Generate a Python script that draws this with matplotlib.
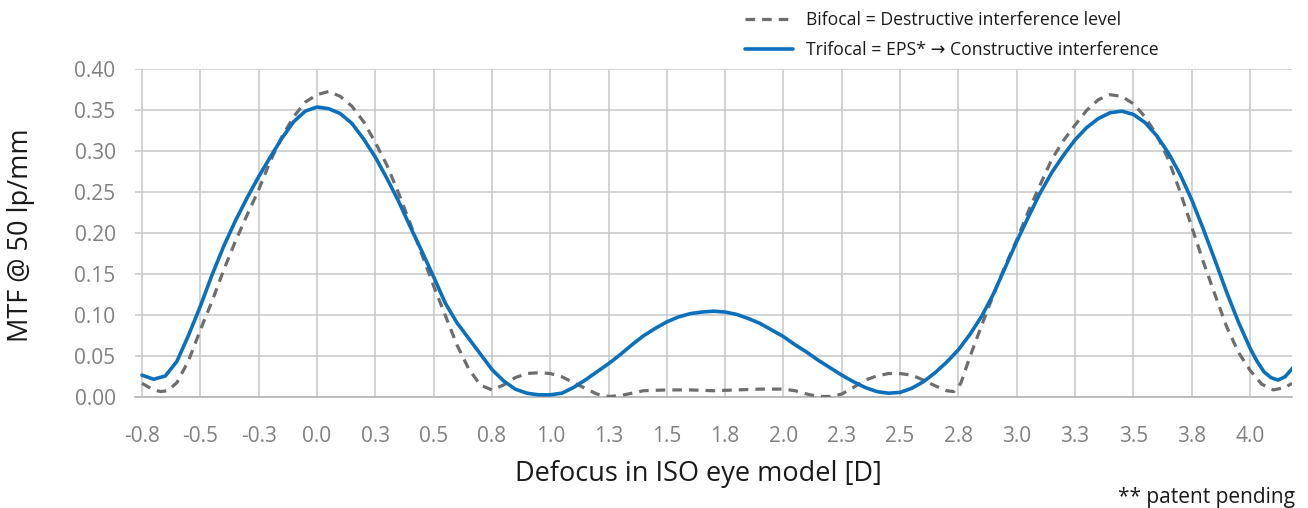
import matplotlib
matplotlib.use("Agg")
import matplotlib.pyplot as plt

# ---- data ----
tick_values = [-0.75, -0.5, -0.25, 0.0, 0.25, 0.5, 0.75, 1.0, 1.25, 1.5, 1.75,
               2.0, 2.25, 2.5, 2.75, 3.0, 3.25, 3.5, 3.75, 4.0]
tick_labels = ["-0.8", "-0.5", "-0.3", "0.0", "0.3", "0.5", "0.8", "1.0", "1.3", "1.5",
               "1.8", "2.0", "2.3", "2.5", "2.8", "3.0", "3.3", "3.5", "3.8", "4.0"]
y_ticks = [0.00, 0.05, 0.10, 0.15, 0.20, 0.25, 0.30, 0.35, 0.40]

trifocal_x = [-0.75, -0.70, -0.65, -0.60, -0.55, -0.50, -0.45, -0.40, -0.35, -0.30,
              -0.25, -0.20, -0.15, -0.10, -0.05, 0.00, 0.05, 0.10, 0.15, 0.20,
              0.25, 0.30, 0.35, 0.40, 0.45, 0.50, 0.55, 0.60, 0.65, 0.70,
              0.75, 0.80, 0.85, 0.90, 0.95, 1.00, 1.05, 1.10, 1.15, 1.20,
              1.25, 1.30, 1.35, 1.40, 1.45, 1.50, 1.55, 1.60, 1.65, 1.70,
              1.75, 1.80, 1.85, 1.90, 1.95, 2.00, 2.05, 2.10, 2.15, 2.20,
              2.25, 2.30, 2.35, 2.40, 2.45, 2.50, 2.55, 2.60, 2.65, 2.70,
              2.75, 2.80, 2.85, 2.90, 2.95, 3.00, 3.05, 3.10, 3.15, 3.20,
              3.25, 3.30, 3.35, 3.40, 3.45, 3.50, 3.55, 3.60, 3.65, 3.70,
              3.75, 3.80, 3.85, 3.90, 3.95, 4.00, 4.03, 4.06, 4.09, 4.12,
              4.15, 4.19]
trifocal_y = [0.027, 0.022, 0.026, 0.044, 0.076, 0.111, 0.149, 0.184, 0.215, 0.243,
              0.269, 0.293, 0.316, 0.336, 0.349, 0.354, 0.352, 0.346, 0.334, 0.315,
              0.293, 0.267, 0.239, 0.208, 0.178, 0.147, 0.115, 0.091, 0.072, 0.053,
              0.034, 0.020, 0.010, 0.005, 0.003, 0.003, 0.005, 0.012, 0.021, 0.031,
              0.041, 0.052, 0.064, 0.075, 0.084, 0.092, 0.098, 0.102, 0.104, 0.105,
              0.104, 0.101, 0.096, 0.090, 0.082, 0.074, 0.064, 0.055, 0.045, 0.036,
              0.027, 0.019, 0.012, 0.007, 0.005, 0.006, 0.011, 0.019, 0.030, 0.043,
              0.058, 0.077, 0.099, 0.126, 0.158, 0.190, 0.220, 0.249, 0.274, 0.295,
              0.314, 0.329, 0.340, 0.347, 0.349, 0.345, 0.335, 0.319, 0.298, 0.272,
              0.241, 0.205, 0.167, 0.128, 0.092, 0.060, 0.044, 0.031, 0.024, 0.021,
              0.025, 0.038]

bifocal_x = [-0.75, -0.70, -0.67, -0.64, -0.60, -0.55, -0.50, -0.45, -0.40, -0.35,
             -0.30, -0.25, -0.20, -0.15, -0.10, -0.05, 0.00, 0.05, 0.10, 0.15,
             0.20, 0.25, 0.30, 0.35, 0.40, 0.45, 0.50, 0.55, 0.60, 0.65,
             0.70, 0.75, 0.80, 0.85, 0.90, 0.95, 1.00, 1.05, 1.10, 1.15,
             1.20, 1.25, 1.30, 1.35, 1.40, 1.50, 1.60, 1.70, 1.80, 1.90,
             2.00, 2.05, 2.10, 2.15, 2.20, 2.25, 2.30, 2.35, 2.40, 2.45,
             2.50, 2.55, 2.60, 2.65, 2.70, 2.73, 2.76, 2.80, 2.85, 2.90,
             2.95, 3.00, 3.05, 3.10, 3.15, 3.20, 3.25, 3.30, 3.35, 3.40,
             3.45, 3.50, 3.55, 3.60, 3.65, 3.70, 3.75, 3.80, 3.85, 3.90,
             3.95, 4.00, 4.05, 4.10, 4.15, 4.18]
bifocal_y = [0.017, 0.009, 0.007, 0.008, 0.018, 0.045, 0.082, 0.117, 0.155, 0.190,
             0.222, 0.253, 0.288, 0.318, 0.342, 0.360, 0.369, 0.373, 0.367, 0.355,
             0.336, 0.311, 0.283, 0.249, 0.212, 0.174, 0.136, 0.100, 0.064, 0.035,
             0.015, 0.009, 0.015, 0.024, 0.029, 0.030, 0.029, 0.025, 0.018, 0.011,
             0.004, 0.001, 0.002, 0.005, 0.008, 0.009, 0.009, 0.008, 0.009, 0.010,
             0.010, 0.008, 0.004, 0.001, 0.001, 0.004, 0.012, 0.021, 0.026, 0.029,
             0.029, 0.027, 0.021, 0.014, 0.008, 0.007, 0.017, 0.050, 0.088, 0.125,
             0.160, 0.192, 0.227, 0.259, 0.290, 0.313, 0.332, 0.350, 0.363, 0.369,
             0.367, 0.358, 0.342, 0.320, 0.290, 0.251, 0.208, 0.165, 0.125, 0.086,
             0.055, 0.033, 0.016, 0.009, 0.012, 0.017]

series_labels = ["Bifocal = Destructive interference level",
                 "Trifocal = EPS* \u2192 Constructive interference"]

# ---- figure ----
plt.rcParams['font.family'] = ['Open Sans', 'DejaVu Sans']
W, H = 1308, 508
fig = plt.figure(figsize=(W / 100, H / 100), dpi=100)
ax = fig.add_axes([135 / W, 1 - 397.3 / H, 1157 / W, 328 / H])

grid_c = "#c6c6c6"
ax.plot(bifocal_x, bifocal_y, color="#6d6d6f", lw=2.3, ls=(0, (3.0, 2.2)),
        label=series_labels[0], zorder=3, solid_capstyle="butt", dash_capstyle="butt")
ax.plot(trifocal_x, trifocal_y, color="#0a70bd", lw=2.6, label=series_labels[1],
        zorder=4, solid_capstyle="round", solid_joinstyle="round")

ax.set_xlim(-0.78, 4.18)
ax.set_ylim(0, 0.40)
ax.set_xticks(tick_values)
ax.set_xticklabels(tick_labels)
ax.set_yticks(y_ticks)
ax.set_yticklabels([f"{v:.2f}" for v in y_ticks])
ax.grid(True, color=grid_c, lw=1.1)
ax.set_axisbelow(True)
for s in ["top", "right", "left"]:
    ax.spines[s].set_visible(False)
ax.spines["bottom"].set_color("#b4b4b4")
ax.spines["bottom"].set_linewidth(1.2)
ax.tick_params(axis="both", length=0, labelsize=15, labelcolor="#808080")
ax.tick_params(axis="y", pad=14)
ax.tick_params(axis="x", pad=21)

ax.set_xlabel("Defocus in ISO eye model [D]", fontsize=19.5, color="#1a1a1a", va="center")
ax.xaxis.set_label_coords((698 - 135) / 1157, (397.3 - 474) / 328)
ax.set_ylabel("MTF @ 50 lp/mm", fontsize=19.5, color="#1a1a1a", va="center")
ax.yaxis.set_label_coords((21 - 135) / 1157, (397.3 - 235) / 328)

leg = ax.legend(loc="upper left", bbox_to_anchor=(745 / W, 1 - 11 / H),
                bbox_transform=fig.transFigure, frameon=False, fontsize=12.7,
                handlelength=2.7, handletextpad=0.75, labelspacing=0.7,
                borderpad=0, borderaxespad=0)
for t in leg.get_texts():
    t.set_color("#1a1a1a")

fig.text(1295 / W, 1 - 497 / H, "** patent pending", ha="right", va="center",
         fontsize=15, color="#1a1a1a")

fig.savefig("out.png", dpi=100)
